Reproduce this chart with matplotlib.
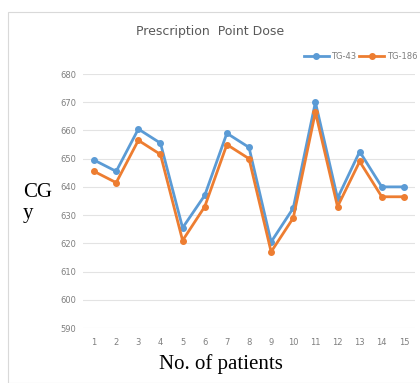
import numpy as np
import matplotlib
matplotlib.use("Agg")
import matplotlib.pyplot as plt
from matplotlib.patches import Rectangle

patients = list(range(1, 16))
tg43 = [649.5, 645.5, 660.5, 655.5, 625.5, 637, 659, 654, 620.5, 632.5, 670, 636, 652.5, 640, 640]
tg186 = [645.5, 641.5, 656.5, 651.5, 621, 633, 655, 650, 617, 629, 666.5, 633, 649, 636.5, 636.5]
yticks = list(range(590, 681, 10))

fig = plt.figure(figsize=(4.2, 3.83), dpi=100)
# outer chart border
fig.patches.append(Rectangle((8 / 420, 0), 1, 1 - 12 / 383, transform=fig.transFigure,
                             fill=False, edgecolor='#d9d9d9', linewidth=0.8))

ax = fig.add_axes([83 / 420, 1 - 328 / 383, (415 - 83) / 420, (328 - 74) / 383])
ax.plot(patients, tg43, color='#5B9BD5', linewidth=2, marker='o', markersize=4, label='TG-43', zorder=3)
ax.plot(patients, tg186, color='#ED7D31', linewidth=2, marker='o', markersize=4, label='TG-186', zorder=3)

ax.set_xlim(0.5, 15.5)
ax.set_ylim(590, 680)
ax.set_yticks(yticks)
ax.set_xticks(patients)
ax.tick_params(axis='both', length=0, labelsize=6, labelcolor='#7f7f7f')
ax.tick_params(axis='y', pad=5)
ax.tick_params(axis='x', pad=7)
ax.grid(axis='y', color='#e3e3e3', linewidth=0.8)
ax.set_axisbelow(True)
for s in ax.spines.values():
    s.set_visible(False)

fig.text(0.5, 1 - 32 / 383, 'Prescription  Point Dose', ha='center', va='center',
         fontsize=9, color='#595959')
fig.text(23 / 420, 1 - 203 / 383, 'CG\ny', ha='left', va='center', fontsize=15,
         family='Liberation Serif', linespacing=1.2)
fig.text(221 / 420, 1 - 364 / 383, 'No. of patients', ha='center', va='center',
         fontsize=15, family='Liberation Serif')

ax.legend(loc='lower right', bbox_to_anchor=(1.02, 1.035), ncol=2, frameon=False,
          fontsize=6, labelcolor='#7f7f7f', handlelength=3, handletextpad=0.3,
          columnspacing=0.4, borderaxespad=0.1)

fig.savefig('out.png', dpi=100)
